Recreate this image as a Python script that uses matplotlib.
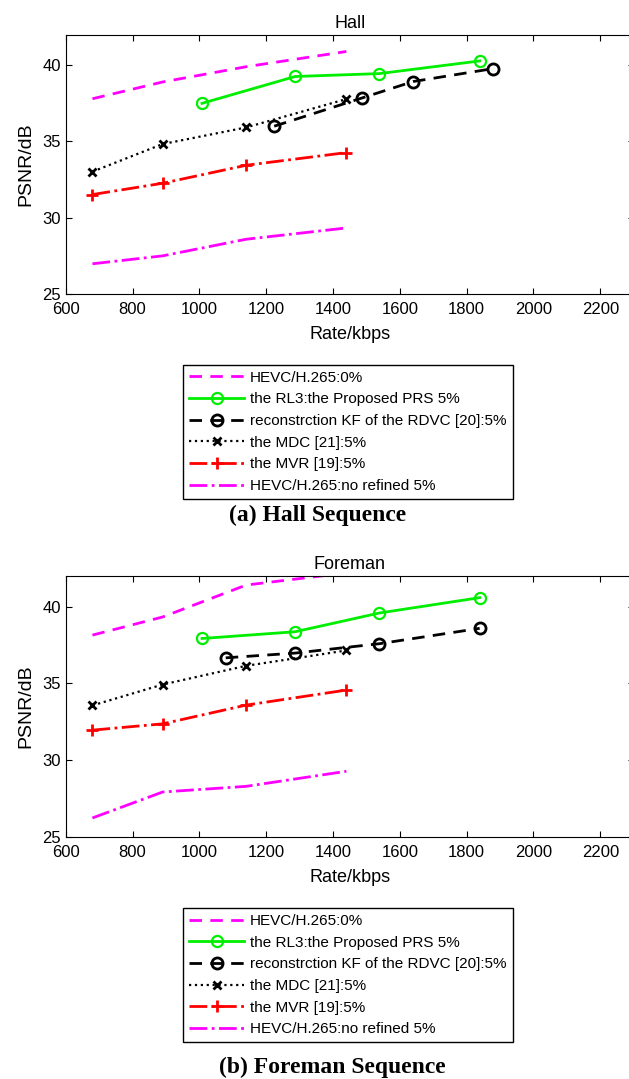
import matplotlib
matplotlib.use('Agg')
import matplotlib.pyplot as plt

plt.rcParams['font.family'] = ['Liberation Sans', 'DejaVu Sans']

# Rate (kbps) positions
rate_a = [680, 890, 1140, 1440]          # shared by HEVC, MDC, MVR
rate_prop = [1008, 1287, 1539, 1839]     # proposed PRS
rate_rdvc_hall = [1224, 1488, 1640, 1880]
rate_rdvc_fore = [1079, 1287, 1539, 1839]

# Hall sequence PSNR (dB)
hall_hevc0 = [37.8, 38.9, 39.9, 40.9]
hall_prop = [37.5, 39.26, 39.45, 40.28]
hall_rdvc = [36.0, 37.86, 38.93, 39.78]
hall_mdc = [33.02, 34.83, 35.92, 37.78]
hall_mvr = [31.52, 32.26, 33.44, 34.27]
hall_hevc_nr = [26.98, 27.5, 28.59, 29.33]

# Foreman sequence PSNR (dB)
fore_hevc0 = [38.15, 39.33, 41.41, 42.2]
fore_prop = [37.93, 38.37, 39.59, 40.59]
fore_rdvc = [36.67, 36.98, 37.59, 38.59]
fore_mdc = [33.57, 34.93, 36.15, 37.15]
fore_mvr = [31.96, 32.37, 33.59, 34.57]
fore_hevc_nr = [26.24, 27.93, 28.3, 29.28]

labels = ['HEVC/H.265:0%',
          'the RL3:the Proposed PRS 5%',
          'reconstrction KF of the RDVC [20]:5%',
          'the MDC [21]:5%',
          'the MVR [19]:5%',
          'HEVC/H.265:no refined 5%']

fig = plt.figure(figsize=(6.29, 10.79), dpi=100)


def draw_panel(ax, title, hevc0, prop, rdvc_x, rdvc, mdc, mvr, hevc_nr):
    ax.plot(rate_a, hevc0, color='#ff00ff', lw=2, dashes=(4.5, 3), label=labels[0])
    ax.plot(rate_prop, prop, color='#00ee00', lw=2, marker='o', ms=8,
            mfc='none', mew=1.6, label=labels[1])
    ax.plot(rdvc_x, rdvc, color='black', lw=2, dashes=(4.5, 3), marker='o', ms=8,
            mfc='none', mew=2, label=labels[2])
    ax.plot(rate_a, mdc, color='black', lw=1.6, ls=':', marker='x', ms=6,
            mew=2, label=labels[3])
    ax.plot(rate_a, mvr, color='red', lw=2, ls='-.', marker='+', ms=9,
            mew=2, label=labels[4])
    ax.plot(rate_a, hevc_nr, color='#ff00ff', lw=2, ls='-.', label=labels[5])
    ax.set_xlim(600, 2300)
    ax.set_ylim(25, 42)
    ax.set_xticks(range(600, 2201, 200))
    ax.set_yticks([25, 30, 35, 40])
    ax.tick_params(direction='in', top=True, right=True, labelsize=12, length=4)
    ax.tick_params(axis='x', pad=6)
    ax.set_title(title, fontsize=13, pad=5)
    ax.set_xlabel('Rate/kbps', fontsize=13, labelpad=6)
    ax.set_ylabel('PSNR/dB', fontsize=14, labelpad=6)


W, H = 629, 1079
ax1 = fig.add_axes([65.7 / W, 1 - 294 / H, 568 / W, 259.3 / H])
draw_panel(ax1, 'Hall', hall_hevc0, hall_prop, rate_rdvc_hall, hall_rdvc,
           hall_mdc, hall_mvr, hall_hevc_nr)
ax2 = fig.add_axes([65.7 / W, 1 - 837 / H, 568 / W, 261 / H])
draw_panel(ax2, 'Foreman', fore_hevc0, fore_prop, rate_rdvc_fore, fore_rdvc,
           fore_mdc, fore_mvr, fore_hevc_nr)

for ax, top in [(ax1, 364.7), (ax2, 908)]:
    h, l = ax.get_legend_handles_labels()
    leg = fig.legend(h, l, loc='upper left', bbox_to_anchor=(183 / W, 1 - top / H),
                     fontsize=11, handlelength=3.6, handletextpad=0.4,
                     labelspacing=0.5, borderpad=0.4, borderaxespad=0,
                     fancybox=False, framealpha=1, edgecolor='black', numpoints=1)
    leg.get_frame().set_linewidth(1)

fig.text(318 / W, 1 - 515 / H, '(a) Hall Sequence', ha='center', va='center',
         fontsize=17, fontweight='bold', family='Liberation Serif')
fig.text(332 / W, 1 - 1067 / H, '(b) Foreman Sequence', ha='center', va='center',
         fontsize=17, fontweight='bold', family='Liberation Serif')

fig.savefig('out.png', dpi=100)
